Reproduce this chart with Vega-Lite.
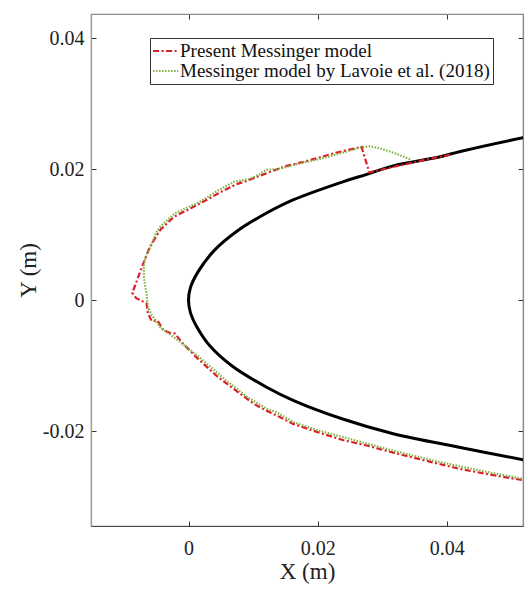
{
  "$schema": "https://vega.github.io/schema/vega-lite/v6.json",
  "width": 432,
  "height": 512,
  "autosize": {"type": "none"},
  "padding": {"left": 91, "top": 14, "right": 5, "bottom": 74},
  "background": "white",
  "config": {
    "font": "Liberation Serif",
    "view": {"stroke": "#8a8a8a", "strokeWidth": 1.2},
    "axis": {"grid": false, "labelFont": "Liberation Serif", "titleFont": "Liberation Serif", "titleFontWeight": "normal", "labelColor": "#222", "titleColor": "#222"}
  },
  "datasets": {
    "airfoil": [
      {"i": 1, "x": 0.0545, "y": 0.0253},
      {"i": 2, "x": 0.0518, "y": 0.0248},
      {"i": 3, "x": 0.0421, "y": 0.0227},
      {"i": 4, "x": 0.0390, "y": 0.0219},
      {"i": 5, "x": 0.0317, "y": 0.0205},
      {"i": 6, "x": 0.0276, "y": 0.0192},
      {"i": 7, "x": 0.0240, "y": 0.0181},
      {"i": 8, "x": 0.0162, "y": 0.0153},
      {"i": 9, "x": 0.0121, "y": 0.0133},
      {"i": 10, "x": 0.0076, "y": 0.0106},
      {"i": 11, "x": 0.0040, "y": 0.0076},
      {"i": 12, "x": 0.0014, "y": 0.0042},
      {"i": 13, "x": 0.0003, "y": 0.0019},
      {"i": 14, "x": 0.0, "y": 0.0},
      {"i": 15, "x": 0.0003, "y": -0.0019},
      {"i": 16, "x": 0.0013, "y": -0.0041},
      {"i": 17, "x": 0.0034, "y": -0.0071},
      {"i": 18, "x": 0.0068, "y": -0.0101},
      {"i": 19, "x": 0.0121, "y": -0.0133},
      {"i": 20, "x": 0.0162, "y": -0.0153},
      {"i": 21, "x": 0.0240, "y": -0.0182},
      {"i": 22, "x": 0.0317, "y": -0.0204},
      {"i": 23, "x": 0.0421, "y": -0.0225},
      {"i": 24, "x": 0.0524, "y": -0.0245},
      {"i": 25, "x": 0.0545, "y": -0.0249}
    ],
    "models": [
      {"series": "Present Messinger model", "i": 1, "x": 0.0405, "y": 0.0222},
      {"series": "Present Messinger model", "i": 2, "x": 0.0360, "y": 0.0213},
      {"series": "Present Messinger model", "i": 3, "x": 0.0320, "y": 0.0204},
      {"series": "Present Messinger model", "i": 4, "x": 0.0280, "y": 0.0195},
      {"series": "Present Messinger model", "i": 5, "x": 0.0268, "y": 0.0234},
      {"series": "Present Messinger model", "i": 6, "x": 0.0245, "y": 0.0229},
      {"series": "Present Messinger model", "i": 7, "x": 0.0224, "y": 0.0224},
      {"series": "Present Messinger model", "i": 8, "x": 0.0200, "y": 0.0217},
      {"series": "Present Messinger model", "i": 9, "x": 0.0173, "y": 0.0210},
      {"series": "Present Messinger model", "i": 10, "x": 0.0152, "y": 0.0205},
      {"series": "Present Messinger model", "i": 11, "x": 0.0124, "y": 0.0195},
      {"series": "Present Messinger model", "i": 12, "x": 0.0090, "y": 0.0182},
      {"series": "Present Messinger model", "i": 13, "x": 0.0074, "y": 0.0177},
      {"series": "Present Messinger model", "i": 14, "x": 0.0050, "y": 0.0165},
      {"series": "Present Messinger model", "i": 15, "x": 0.0024, "y": 0.0151},
      {"series": "Present Messinger model", "i": 16, "x": 0.0005, "y": 0.0141},
      {"series": "Present Messinger model", "i": 17, "x": -0.0023, "y": 0.0127},
      {"series": "Present Messinger model", "i": 18, "x": -0.0044, "y": 0.0107},
      {"series": "Present Messinger model", "i": 19, "x": -0.0060, "y": 0.0081},
      {"series": "Present Messinger model", "i": 20, "x": -0.0070, "y": 0.0056},
      {"series": "Present Messinger model", "i": 21, "x": -0.0076, "y": 0.0040},
      {"series": "Present Messinger model", "i": 22, "x": -0.0087, "y": 0.0011},
      {"series": "Present Messinger model", "i": 23, "x": -0.0081, "y": 0.0003},
      {"series": "Present Messinger model", "i": 24, "x": -0.0065, "y": -0.0005},
      {"series": "Present Messinger model", "i": 25, "x": -0.0063, "y": -0.0020},
      {"series": "Present Messinger model", "i": 26, "x": -0.0057, "y": -0.0032},
      {"series": "Present Messinger model", "i": 27, "x": -0.0048, "y": -0.0031},
      {"series": "Present Messinger model", "i": 28, "x": -0.0039, "y": -0.0046},
      {"series": "Present Messinger model", "i": 29, "x": -0.0029, "y": -0.0050},
      {"series": "Present Messinger model", "i": 30, "x": -0.0021, "y": -0.0051},
      {"series": "Present Messinger model", "i": 31, "x": -0.0010, "y": -0.0065},
      {"series": "Present Messinger model", "i": 32, "x": 0.0014, "y": -0.0089},
      {"series": "Present Messinger model", "i": 33, "x": 0.0045, "y": -0.0117},
      {"series": "Present Messinger model", "i": 34, "x": 0.0076, "y": -0.0140},
      {"series": "Present Messinger model", "i": 35, "x": 0.0102, "y": -0.0159},
      {"series": "Present Messinger model", "i": 36, "x": 0.0121, "y": -0.0169},
      {"series": "Present Messinger model", "i": 37, "x": 0.0136, "y": -0.0176},
      {"series": "Present Messinger model", "i": 38, "x": 0.0162, "y": -0.0189},
      {"series": "Present Messinger model", "i": 39, "x": 0.0204, "y": -0.0203},
      {"series": "Present Messinger model", "i": 40, "x": 0.0240, "y": -0.0214},
      {"series": "Present Messinger model", "i": 41, "x": 0.0276, "y": -0.0222},
      {"series": "Present Messinger model", "i": 42, "x": 0.0317, "y": -0.0233},
      {"series": "Present Messinger model", "i": 43, "x": 0.0379, "y": -0.0248},
      {"series": "Present Messinger model", "i": 44, "x": 0.0421, "y": -0.0258},
      {"series": "Present Messinger model", "i": 45, "x": 0.0470, "y": -0.0267},
      {"series": "Present Messinger model", "i": 46, "x": 0.0524, "y": -0.0276},
      {"series": "Present Messinger model", "i": 47, "x": 0.0545, "y": -0.0279},
      {"series": "Messinger model by Lavoie et al. (2018)", "i": 1, "x": 0.0343, "y": 0.0215},
      {"series": "Messinger model by Lavoie et al. (2018)", "i": 2, "x": 0.0328, "y": 0.0221},
      {"series": "Messinger model by Lavoie et al. (2018)", "i": 3, "x": 0.0312, "y": 0.0227},
      {"series": "Messinger model by Lavoie et al. (2018)", "i": 4, "x": 0.0295, "y": 0.0232},
      {"series": "Messinger model by Lavoie et al. (2018)", "i": 5, "x": 0.0281, "y": 0.0235},
      {"series": "Messinger model by Lavoie et al. (2018)", "i": 6, "x": 0.0266, "y": 0.0233},
      {"series": "Messinger model by Lavoie et al. (2018)", "i": 7, "x": 0.0245, "y": 0.0227},
      {"series": "Messinger model by Lavoie et al. (2018)", "i": 8, "x": 0.0224, "y": 0.0221},
      {"series": "Messinger model by Lavoie et al. (2018)", "i": 9, "x": 0.0200, "y": 0.0215},
      {"series": "Messinger model by Lavoie et al. (2018)", "i": 10, "x": 0.0173, "y": 0.0209},
      {"series": "Messinger model by Lavoie et al. (2018)", "i": 11, "x": 0.0150, "y": 0.0203},
      {"series": "Messinger model by Lavoie et al. (2018)", "i": 12, "x": 0.0136, "y": 0.0200},
      {"series": "Messinger model by Lavoie et al. (2018)", "i": 13, "x": 0.0120, "y": 0.0199},
      {"series": "Messinger model by Lavoie et al. (2018)", "i": 14, "x": 0.0110, "y": 0.0192},
      {"series": "Messinger model by Lavoie et al. (2018)", "i": 15, "x": 0.0095, "y": 0.0185},
      {"series": "Messinger model by Lavoie et al. (2018)", "i": 16, "x": 0.0071, "y": 0.0181},
      {"series": "Messinger model by Lavoie et al. (2018)", "i": 17, "x": 0.0045, "y": 0.0167},
      {"series": "Messinger model by Lavoie et al. (2018)", "i": 18, "x": 0.0019, "y": 0.0151},
      {"series": "Messinger model by Lavoie et al. (2018)", "i": 19, "x": -0.0005, "y": 0.0140},
      {"series": "Messinger model by Lavoie et al. (2018)", "i": 20, "x": -0.0022, "y": 0.0132},
      {"series": "Messinger model by Lavoie et al. (2018)", "i": 21, "x": -0.0043, "y": 0.0113},
      {"series": "Messinger model by Lavoie et al. (2018)", "i": 22, "x": -0.0050, "y": 0.0103},
      {"series": "Messinger model by Lavoie et al. (2018)", "i": 23, "x": -0.0058, "y": 0.0083},
      {"series": "Messinger model by Lavoie et al. (2018)", "i": 24, "x": -0.0065, "y": 0.0070},
      {"series": "Messinger model by Lavoie et al. (2018)", "i": 25, "x": -0.0069, "y": 0.0056},
      {"series": "Messinger model by Lavoie et al. (2018)", "i": 26, "x": -0.0069, "y": 0.0036},
      {"series": "Messinger model by Lavoie et al. (2018)", "i": 27, "x": -0.0067, "y": 0.0020},
      {"series": "Messinger model by Lavoie et al. (2018)", "i": 28, "x": -0.0065, "y": 0.0010},
      {"series": "Messinger model by Lavoie et al. (2018)", "i": 29, "x": -0.0063, "y": -0.0010},
      {"series": "Messinger model by Lavoie et al. (2018)", "i": 30, "x": -0.0057, "y": -0.0023},
      {"series": "Messinger model by Lavoie et al. (2018)", "i": 31, "x": -0.0053, "y": -0.0028},
      {"series": "Messinger model by Lavoie et al. (2018)", "i": 32, "x": -0.0044, "y": -0.0041},
      {"series": "Messinger model by Lavoie et al. (2018)", "i": 33, "x": -0.0038, "y": -0.0046},
      {"series": "Messinger model by Lavoie et al. (2018)", "i": 34, "x": -0.0029, "y": -0.0052},
      {"series": "Messinger model by Lavoie et al. (2018)", "i": 35, "x": -0.0013, "y": -0.0064},
      {"series": "Messinger model by Lavoie et al. (2018)", "i": 36, "x": 0.0019, "y": -0.0089},
      {"series": "Messinger model by Lavoie et al. (2018)", "i": 37, "x": 0.0055, "y": -0.0120},
      {"series": "Messinger model by Lavoie et al. (2018)", "i": 38, "x": 0.0091, "y": -0.0148},
      {"series": "Messinger model by Lavoie et al. (2018)", "i": 39, "x": 0.0121, "y": -0.0166},
      {"series": "Messinger model by Lavoie et al. (2018)", "i": 40, "x": 0.0136, "y": -0.0171},
      {"series": "Messinger model by Lavoie et al. (2018)", "i": 41, "x": 0.0162, "y": -0.0186},
      {"series": "Messinger model by Lavoie et al. (2018)", "i": 42, "x": 0.0200, "y": -0.0199},
      {"series": "Messinger model by Lavoie et al. (2018)", "i": 43, "x": 0.0250, "y": -0.0212},
      {"series": "Messinger model by Lavoie et al. (2018)", "i": 44, "x": 0.0317, "y": -0.0230},
      {"series": "Messinger model by Lavoie et al. (2018)", "i": 45, "x": 0.0379, "y": -0.0245},
      {"series": "Messinger model by Lavoie et al. (2018)", "i": 46, "x": 0.0421, "y": -0.0254},
      {"series": "Messinger model by Lavoie et al. (2018)", "i": 47, "x": 0.0470, "y": -0.0264},
      {"series": "Messinger model by Lavoie et al. (2018)", "i": 48, "x": 0.0524, "y": -0.0274},
      {"series": "Messinger model by Lavoie et al. (2018)", "i": 49, "x": 0.0545, "y": -0.0277}
    ]
  },
  "layer": [
    {
      "data": {"name": "airfoil"},
      "mark": {"type": "line", "color": "#000000", "strokeWidth": 3, "interpolate": "catmull-rom", "clip": true},
      "encoding": {
        "x": {
          "field": "x", "type": "quantitative",
          "scale": {"domain": [-0.0151, 0.0518], "nice": false, "zero": false},
          "axis": {
            "orient": "bottom", "values": [0, 0.02, 0.04], "title": "X (m)",
            "labelExpr": "datum.value == 0 ? '0' : replace(datum.label, '\u2212', '-')",
            "labelFontSize": 20, "titleFontSize": 23, "titlePadding": 2,
            "tickSize": -5, "labelPadding": 17, "tickColor": "#333", "domainColor": "#444", "domainWidth": 1.2
          }
        },
        "y": {
          "field": "y", "type": "quantitative",
          "scale": {"domain": [-0.0345, 0.0437], "nice": false, "zero": false},
          "axis": {
            "orient": "left", "values": [-0.02, 0, 0.02, 0.04], "title": "Y (m)",
            "labelExpr": "datum.value == 0 ? '0' : replace(datum.label, '\u2212', '-')",
            "labelFontSize": 20, "titleFontSize": 23, "titlePadding": 2,
            "tickSize": -5, "labelPadding": 12, "tickColor": "#333", "domainColor": "#9a9a9a", "domainWidth": 1.2
          }
        },
        "order": {"field": "i", "type": "quantitative"}
      }
    },
    {
      "data": {"name": "models"},
      "mark": {"type": "line", "strokeWidth": 2.2, "clip": true},
      "encoding": {
        "x": {
          "field": "x", "type": "quantitative",
          "axis": {"orient": "top", "values": [0, 0.02, 0.04], "labels": false, "title": null, "tickSize": -5, "tickColor": "#333", "domainColor": "#8a8a8a", "domainWidth": 1.2}
        },
        "y": {
          "field": "y", "type": "quantitative",
          "axis": {"orient": "right", "values": [-0.02, 0, 0.02, 0.04], "labels": false, "title": null, "tickSize": -5, "tickColor": "#333", "domainColor": "#8a8a8a", "domainWidth": 1.2}
        },
        "color": {
          "field": "series", "type": "nominal",
          "scale": {"domain": ["Present Messinger model", "Messinger model by Lavoie et al. (2018)"], "range": ["#dc1e28", "#7fb040"]},
          "legend": {
            "title": null, "orient": "none", "legendX": 59, "legendY": 24,
            "labelFont": "Liberation Serif", "labelFontSize": 19, "labelColor": "#111", "labelLimit": 400,
            "labelOffset": 7, "symbolType": "M-1.1,0L1.7,0", "symbolSize": 324, "symbolStrokeWidth": 2,
            "rowPadding": 0, "padding": 3, "strokeColor": "#333", "fillColor": "white"
          }
        },
        "strokeDash": {
          "field": "series", "type": "nominal",
          "scale": {"domain": ["Present Messinger model", "Messinger model by Lavoie et al. (2018)"], "range": [[6, 2.5, 2, 2.5], [1.5, 1.5]]},
          "legend": {
            "title": null, "orient": "none", "legendX": 59, "legendY": 24,
            "labelFont": "Liberation Serif", "labelFontSize": 19, "labelColor": "#111", "labelLimit": 400,
            "labelOffset": 7, "symbolType": "M-1.1,0L1.7,0", "symbolSize": 324, "symbolStrokeWidth": 2,
            "rowPadding": 0, "padding": 3, "strokeColor": "#333", "fillColor": "white"
          }
        },
        "order": {"field": "i", "type": "quantitative"}
      }
    }
  ],
  "resolve": {"axis": {"x": "independent", "y": "independent"}}
}
